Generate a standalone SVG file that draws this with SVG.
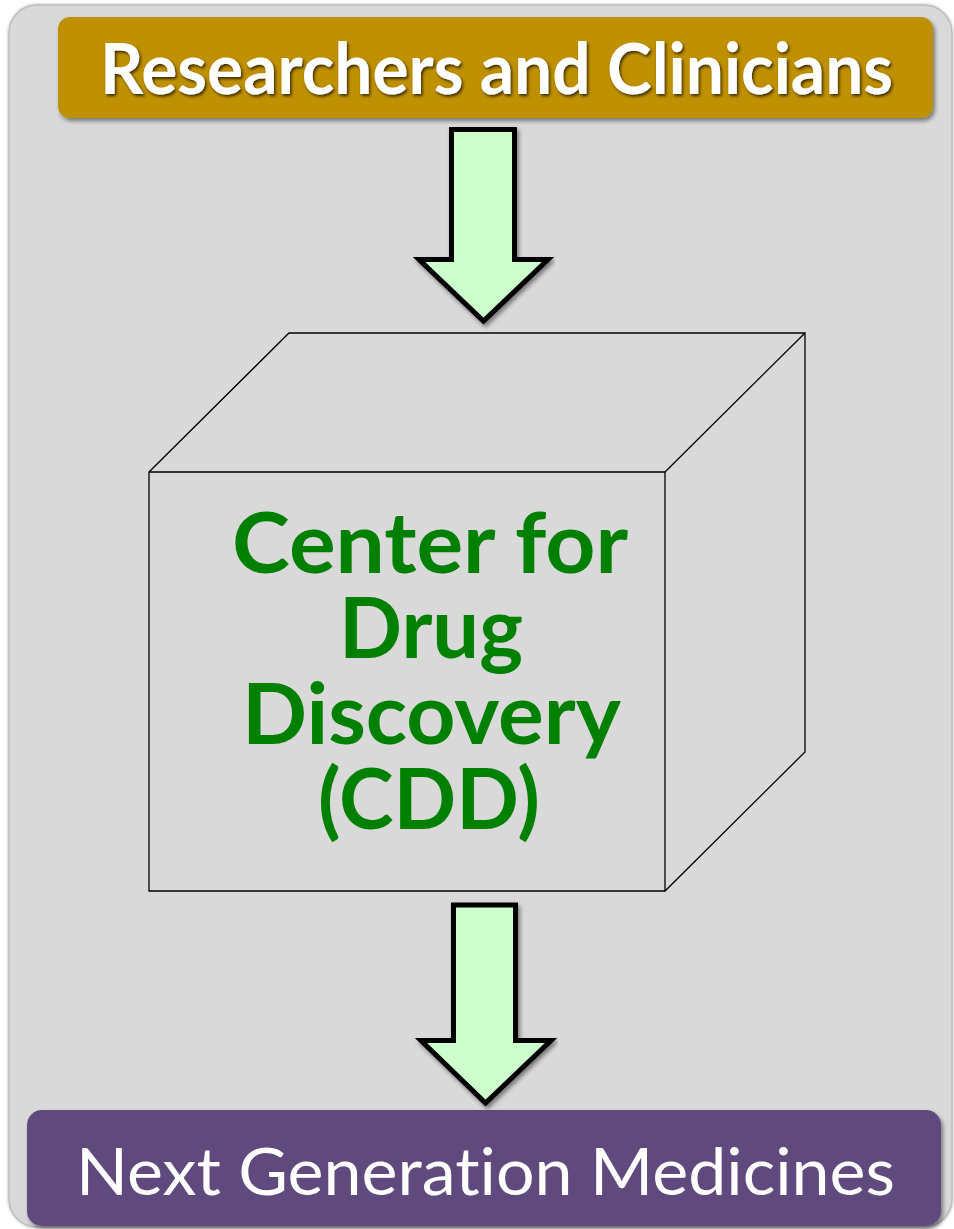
<svg xmlns="http://www.w3.org/2000/svg" width="954" height="1229" viewBox="0 0 954 1229">
<defs>
<style>
.panel{fill:#d9d9d9;stroke:#bdbdbd;stroke-width:1.5}
.arrow{fill:#ccffcc;stroke:#000;stroke-width:5;stroke-linejoin:miter}
.cube{fill:none;stroke:#000;stroke-width:1.3}
text{font-variant-ligatures:none}
.ttl{font-family:Lato,"Open Sans","Liberation Sans",sans-serif;fill:#fff;text-anchor:middle}
.cdd{font-family:Lato,"Liberation Sans",sans-serif;font-weight:bold;font-size:85px;fill:#008000;text-anchor:middle}
</style>
<filter id="sh" x="-5%" y="-20%" width="110%" height="140%">
<feDropShadow dx="2" dy="3" stdDeviation="2" flood-color="#000" flood-opacity="0.45"/>
</filter>
<filter id="tsh" x="-5%" y="-20%" width="110%" height="140%">
<feDropShadow dx="1.5" dy="2" stdDeviation="1.5" flood-color="#000" flood-opacity="0.7"/>
</filter>
<filter id="psh" x="-5%" y="-5%" width="110%" height="110%">
<feDropShadow dx="0" dy="0" stdDeviation="1.5" flood-color="#000" flood-opacity="0.3"/>
</filter>
</defs>
<rect width="954" height="1229" fill="#fff"/>
<rect class="panel" x="9" y="5" width="943" height="1222" rx="28" filter="url(#psh)"/>

<g id="connectors">
<polygon class="arrow" points="451.5,129.5 514.5,129.5 514.5,259.5 548,259.5 483.5,321 419,259.5 451.5,259.5" filter="url(#sh)"/>
<polygon class="arrow" points="453.5,905 515.5,905 515.5,1040.5 551,1040.5 485.5,1103 421,1040.5 453.5,1040.5" filter="url(#sh)"/>
</g>

<g id="researchers">
<rect x="58" y="17" width="875" height="101" rx="12" fill="#bf9000" filter="url(#sh)"/>
<text class="ttl" x="496.5" y="94" font-size="71" font-weight="bold" textLength="793" lengthAdjust="spacingAndGlyphs" filter="url(#tsh)">Researchers and Clinicians</text>
</g>

<g id="cdd">
<polygon class="cube" points="149,472 289,333 805,333 805,752 665,891 149,891" fill="#d9d9d9"/>
<polyline class="cube" points="149,472 665,472 665,891"/>
<line class="cube" x1="665" y1="472" x2="805" y2="333"/>
<text class="cdd"><tspan x="430" y="573" textLength="396" lengthAdjust="spacingAndGlyphs">Center for</tspan><tspan x="431" y="658" textLength="184" lengthAdjust="spacingAndGlyphs">Drug</tspan><tspan x="431.5" y="743.5" textLength="379" lengthAdjust="spacingAndGlyphs">Discovery</tspan><tspan x="429" y="828.5" textLength="222" lengthAdjust="spacingAndGlyphs">(CDD)</tspan></text>
</g>

<g id="medicines">
<rect x="27" y="1110" width="914" height="116" rx="15" fill="#604a7b" filter="url(#sh)"/>
<text class="ttl" x="485.5" y="1195" font-size="66" textLength="819" lengthAdjust="spacingAndGlyphs">Next Generation Medicines</text>
</g>
</svg>
